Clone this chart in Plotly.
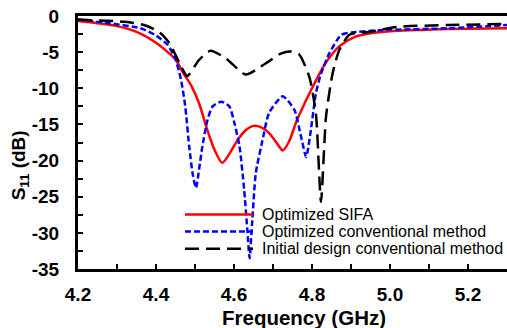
import plotly.graph_objects as go

# Optimized SIFA
f_sifa = [4.20, 4.25, 4.30, 4.35, 4.40, 4.43, 4.45, 4.47, 4.49, 4.51, 4.53, 4.55, 4.57, 4.59, 4.61,
          4.63, 4.65, 4.67, 4.69, 4.71, 4.725, 4.74, 4.76, 4.78, 4.80, 4.82, 4.84, 4.87, 4.91, 4.95,
          5.00, 5.07, 5.15, 5.30]
s_sifa = [-0.7, -1.0, -1.4, -2.2, -3.7, -5.0, -6.0, -7.9, -9.6, -12.0, -15.5, -18.5, -20.3, -18.9, -17.1,
          -15.8, -15.2, -15.4, -16.2, -17.6, -18.6, -17.5, -14.6, -12.2, -10.0, -7.9, -6.1, -4.2, -2.9, -2.4,
          -2.1, -1.95, -1.8, -1.7]

# Optimized conventional method
f_conv = [4.20, 4.28, 4.36, 4.40, 4.43, 4.45, 4.464, 4.475, 4.485, 4.4945, 4.5025, 4.511, 4.519, 4.532, 4.545,
          4.567, 4.588, 4.601, 4.614, 4.626, 4.634, 4.64, 4.646, 4.656, 4.673, 4.69, 4.725, 4.755, 4.772,
          4.785, 4.797, 4.81, 4.823, 4.845, 4.875, 4.90, 4.98, 5.15, 5.30]
s_conv = [-0.5, -1.0, -1.7, -2.7, -4.0, -6.0, -8.8, -12.5, -18.0, -22.0, -23.8, -21.0, -18.0, -14.4, -12.5,
          -11.85, -12.5, -14.8, -18.0, -24.0, -29.5, -33.5, -29.0, -21.7, -17.2, -13.4, -11.1, -13.0, -16.7,
          -19.5, -15.8, -10.7, -8.0, -5.1, -2.6, -2.3, -1.95, -1.7, -1.25]

# Initial design conventional method
f_init = [4.20, 4.32, 4.37, 4.41, 4.435, 4.46, 4.48, 4.51, 4.54, 4.58, 4.63, 4.68, 4.72, 4.745, 4.767,
          4.793, 4.81, 4.823, 4.836, 4.853, 4.87, 4.896, 4.947, 5.02, 5.15, 5.30]
s_init = [-0.5, -0.8, -1.25, -2.3, -3.8, -6.5, -8.3, -6.1, -4.8, -5.9, -8.1, -6.6, -5.2, -4.9, -5.3,
          -8.4, -13.5, -25.7, -13.9, -7.9, -4.7, -2.6, -2.2, -1.5, -1.25, -1.1]

series_names = ["Optimized SIFA", "Optimized conventional method", "Initial design conventional method"]
series_colors = ["#ff0000", "#0000ff", "#000000"]
series_dash = ["solid", "6px,3px", "14px,7px"]

x_ticks = [4.2, 4.4, 4.6, 4.8, 5.0, 5.2]
x_ticktext = ["4.2", "4.4", "4.6", "4.8", "5.0", "5.2"]
y_ticks = [0, -5, -10, -15, -20, -25, -30, -35]
y_ticktext = ["0", "-5", "-10", "-15", "-20", "-25", "-30", "-35"]

FONT = "Liberation Sans, Arial, sans-serif"

fig = go.Figure()
for fx, sy, nm, col, dsh, sm in zip([f_sifa, f_conv, f_init], [s_sifa, s_conv, s_init],
                                    series_names, series_colors, series_dash, [0.8, 0.6, 0.6]):
    fig.add_trace(go.Scatter(x=fx, y=sy, mode="lines", name=nm, showlegend=False,
                             line=dict(color=col, width=2.5, dash=dsh, shape="spline", smoothing=sm)))

# legend drawn as paper-positioned samples + labels
leg_y = [0.215, 0.148, 0.080]
shapes = []
annotations = []
for yy, nm, col, dsh in zip(leg_y, series_names, series_colors, series_dash):
    shapes.append(dict(type="line", xref="paper", yref="paper", x0=0.2494, x1=0.408, y0=yy, y1=yy,
                       line=dict(color=col, width=2.5, dash=dsh)))
    annotations.append(dict(text=nm, showarrow=False, xref="paper", yref="paper", x=0.424, y=yy,
                            xanchor="left", yanchor="middle",
                            font=dict(size=16, family=FONT, color="black")))

annotations.append(dict(text="<b>S<sub>11</sub> (dB)</b>", textangle=-90, showarrow=False,
                        xref="paper", yref="paper", x=-0.135, y=0.41, xanchor="center", yanchor="middle",
                        font=dict(size=19, family=FONT, color="black")))
annotations.append(dict(text="<b>Frequency (GHz)</b>", showarrow=False,
                        xref="paper", yref="paper", x=0.527, y=-0.192, xanchor="center", yanchor="middle",
                        font=dict(size=20.5, family=FONT, color="black")))

fig.update_layout(
    width=507, height=328,
    margin=dict(l=78, r=0, t=16, b=59),
    plot_bgcolor="white", paper_bgcolor="white",
    font=dict(family=FONT, color="black"),
    showlegend=False,
    shapes=shapes,
    annotations=annotations,
    xaxis=dict(range=[4.2, 5.3], tickvals=x_ticks, ticktext=["<b>" + t + "</b>" for t in x_ticktext],
               ticks="inside", ticklen=5, tickwidth=2, tickcolor="black",
               minor=dict(dtick=0.1, tick0=4.2, ticks="inside", ticklen=5, tickwidth=2, tickcolor="black"),
               showline=True, linewidth=3, linecolor="black", mirror=True,
               showgrid=False, zeroline=False,
               tickfont=dict(size=19, family=FONT),
               ticklabelstandoff=6),
    yaxis=dict(range=[-35, 0], tickvals=y_ticks, ticktext=["<b>" + t + "</b>" for t in y_ticktext],
               ticks="inside", ticklen=5, tickwidth=2, tickcolor="black",
               minor=dict(dtick=2.5, tick0=0, ticks="inside", ticklen=5, tickwidth=2, tickcolor="black"),
               showline=True, linewidth=3, linecolor="black",
               showgrid=False, zeroline=False,
               tickfont=dict(size=19, family=FONT),
               ticklabelstandoff=12),
)

fig.write_html("out.html")
